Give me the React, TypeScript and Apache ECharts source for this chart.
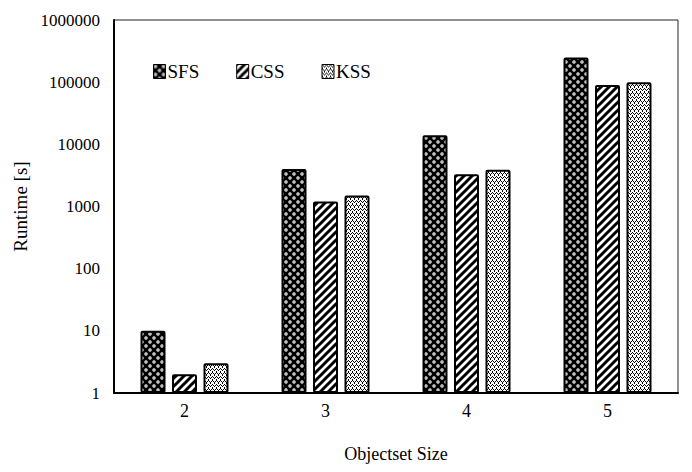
import React, { useEffect, useRef } from "react";
import * as echarts from "echarts";

const categories = ["2", "3", "4", "5"];
const seriesNames = ["SFS", "CSS", "KSS"];
const sfsValues = [10, 4000, 14000, 250000];
const cssValues = [2, 1200, 3300, 90000];
const kssValues = [3, 1500, 3900, 100000];
const yTicks = [1, 10, 100, 1000, 10000, 100000, 1000000];

const FONT = "'Liberation Serif', 'Times New Roman', serif";

function makeTile(size: number, draw: (ctx: CanvasRenderingContext2D) => void) {
  const c = document.createElement("canvas");
  c.width = size;
  c.height = size;
  const ctx = c.getContext("2d")!;
  draw(ctx);
  return { image: c.toDataURL(), repeat: "repeat", imageWidth: size, imageHeight: size } as any;
}

export default function App() {
  const ref = useRef<HTMLDivElement>(null);
  useEffect(() => {
    if (!ref.current) return;
    const chart = echarts.init(ref.current, undefined, { renderer: "svg" });

    const sfsPattern = makeTile(8, (ctx) => {
      ctx.fillStyle = "#000";
      ctx.fillRect(0, 0, 8, 8);
      ctx.fillStyle = "#fff";
      ctx.beginPath();
      ctx.arc(2, 2, 1.7, 0, Math.PI * 2);
      ctx.fill();
      ctx.beginPath();
      ctx.arc(6, 6, 1.7, 0, Math.PI * 2);
      ctx.fill();
      ctx.fillStyle = "#000";
      ctx.fillRect(1.5, 1.5, 1, 1);
      ctx.fillRect(5.5, 5.5, 1, 1);
    });
    const cssPattern = makeTile(8, (ctx) => {
      ctx.fillStyle = "#fff";
      ctx.fillRect(0, 0, 8, 8);
      ctx.strokeStyle = "#000";
      ctx.lineWidth = 3;
      const segs = [
        [-4, 4, 4, -4],
        [0, 8, 8, 0],
        [4, 12, 12, 4],
      ];
      for (const s of segs) {
        ctx.beginPath();
        ctx.moveTo(s[0], s[1]);
        ctx.lineTo(s[2], s[3]);
        ctx.stroke();
      }
    });
    const kssPattern = makeTile(8, (ctx) => {
      ctx.fillStyle = "#fff";
      ctx.fillRect(0, 0, 8, 8);
      ctx.fillStyle = "#000";
      const px = [
        [0, 0], [4, 0], [1, 1], [3, 1], [5, 1], [7, 1], [2, 2], [6, 2],
        [0, 3], [4, 3],
        [0, 4], [4, 4], [1, 5], [3, 5], [5, 5], [7, 5], [2, 6], [6, 6],
        [2, 7], [6, 7],
      ];
      for (const p of px) ctx.fillRect(p[0], p[1], 1, 1);
    });

    const patterns = [sfsPattern, cssPattern, kssPattern];
    const values = [sfsValues, cssValues, kssValues];

    chart.setOption({
      animation: false,
      backgroundColor: "#fff",
      grid: {
        left: 114,
        right: 14,
        top: 20,
        bottom: 79,
        show: true,
        borderColor: "#222",
        borderWidth: 1,
      },
      legend: {
        left: 153,
        top: 62,
        itemWidth: 12,
        itemHeight: 14,
        itemGap: 37,
        padding: 0,
        icon: "rect",
        itemStyle: { borderWidth: 1, borderColor: "#000" },
        textStyle: { fontFamily: FONT, fontSize: 19, color: "#000", padding: [2, 0, 0, -3] },
        data: seriesNames,
      },
      xAxis: {
        type: "category",
        data: categories,
        name: "Objectset Size",
        nameLocation: "middle",
        nameGap: 52,
        nameTextStyle: { fontFamily: FONT, fontSize: 18, color: "#000" },
        axisLine: { lineStyle: { color: "#000", width: 2 } },
        axisTick: { show: false },
        axisLabel: { fontFamily: FONT, fontSize: 18, color: "#000", margin: 9 },
      },
      yAxis: {
        type: "log",
        logBase: 10,
        min: yTicks[0],
        max: yTicks[yTicks.length - 1],
        name: "Runtime [s]",
        nameLocation: "middle",
        nameGap: 83,
        nameTextStyle: { fontFamily: FONT, fontSize: 19, color: "#000" },
        axisLine: { show: true, lineStyle: { color: "#000", width: 2 } },
        axisTick: { show: false },
        splitLine: { show: false },
        axisLabel: {
          fontFamily: FONT,
          fontSize: 17,
          color: "#000",
          margin: 14,
          formatter: (v: number) => String(Math.round(v)),
        },
      },
      series: seriesNames.map((name, i) => ({
        name,
        type: "bar",
        data: values[i],
        barWidth: 25,
        barGap: "26%",
        itemStyle: {
          color: patterns[i],
          borderColor: "#000",
          borderWidth: 2,
          borderRadius: 1,
        },
      })),
    });
    return () => chart.dispose();
  }, []);
  return <div ref={ref} style={{ width: 692, height: 472, margin: -8 }} />;
}
